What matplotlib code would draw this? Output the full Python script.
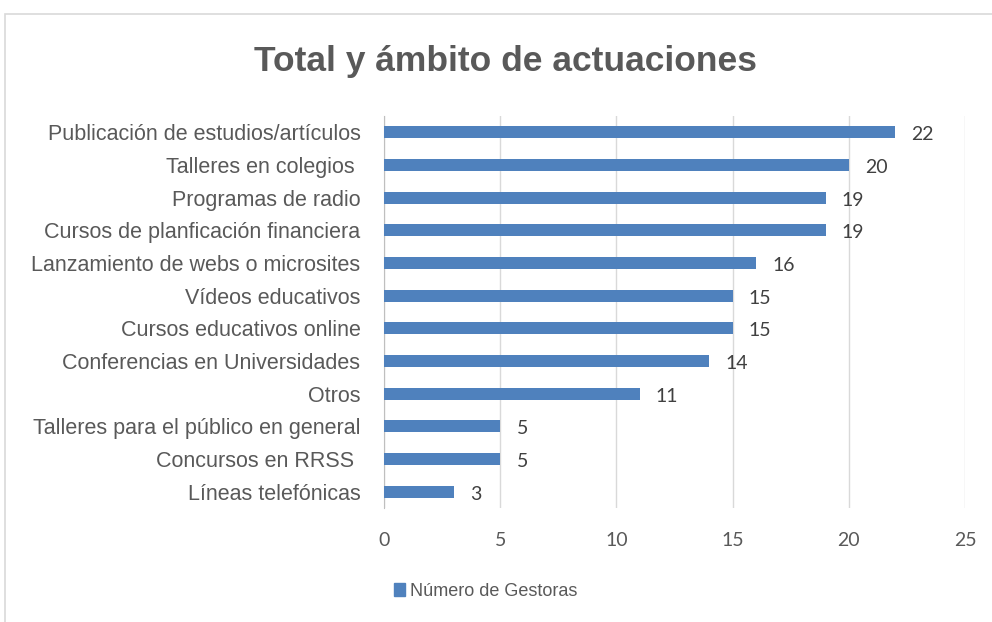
import matplotlib.pyplot as plt
from matplotlib.patches import Rectangle, Patch

categorias = ["Publicación de estudios/artículos", "Talleres en colegios ",
              "Programas de radio", "Cursos de planficación financiera",
              "Lanzamiento de webs o microsites", "Vídeos educativos",
              "Cursos educativos online", "Conferencias en Universidades",
              "Otros", "Talleres para el público en general",
              "Concursos en RRSS ", "Líneas telefónicas"]
gestoras = [22, 20, 19, 19, 16, 15, 15, 14, 11, 5, 5, 3]
xticks = [0, 5, 10, 15, 20, 25]

fuente = "Liberation Sans"
gris = "#595959"
azul = "#4F81BD"

fig = plt.figure(figsize=(9.92, 6.22), dpi=100)
# marco exterior del grafico
fig.patches.append(Rectangle((5 / 992, -0.01), 1.0, 1 - 14 / 622 + 0.01,
                             transform=fig.transFigure, fill=False,
                             edgecolor="#D9D9D9", linewidth=1.2))

ax = fig.add_axes([384 / 992, 1 - 508 / 622, (965 - 384) / 992, (508 - 116) / 622])
y = list(range(len(categorias)))
ax.barh(y, gestoras, height=0.37, color=azul, zorder=3)
ax.set_ylim(len(categorias) - 0.5, -0.5)
ax.set_xlim(0, 25)
ax.set_xticks(xticks)
ax.set_yticks(y)
ax.set_yticklabels(categorias, fontsize=15.5, family=fuente, color=gris)
ax.set_xticklabels([str(t) for t in xticks], fontsize=14, family="Lato", color=gris)
ax.tick_params(axis="y", length=0, pad=17)
ax.tick_params(axis="x", length=0, pad=17)
ax.grid(axis="x", color="#D9D9D9", linewidth=1, zorder=0)
for s in ["top", "right", "bottom"]:
    ax.spines[s].set_visible(False)
ax.spines["left"].set_color("#BFBFBF")

for yi, v in zip(y, gestoras):
    ax.text(v + 0.7, yi + 0.08, str(v), va="center", ha="left", fontsize=14,
            family="Lato", color="#404040")

fig.text(0.51, 1 - 61 / 622, "Total y ámbito de actuaciones", ha="center", va="center",
         fontsize=25.5, fontweight="bold", family=fuente, color=gris)

leg = fig.legend(handles=[Patch(color=azul, label="Número de Gestoras")],
                 loc="center", bbox_to_anchor=(486 / 992, 1 - 591 / 622),
                 frameon=False, handlelength=0.6, handleheight=0.7, handletextpad=0.3,
                 prop={"family": fuente, "size": 13})
for t in leg.get_texts():
    t.set_color(gris)

fig.savefig("out.png", dpi=100)
